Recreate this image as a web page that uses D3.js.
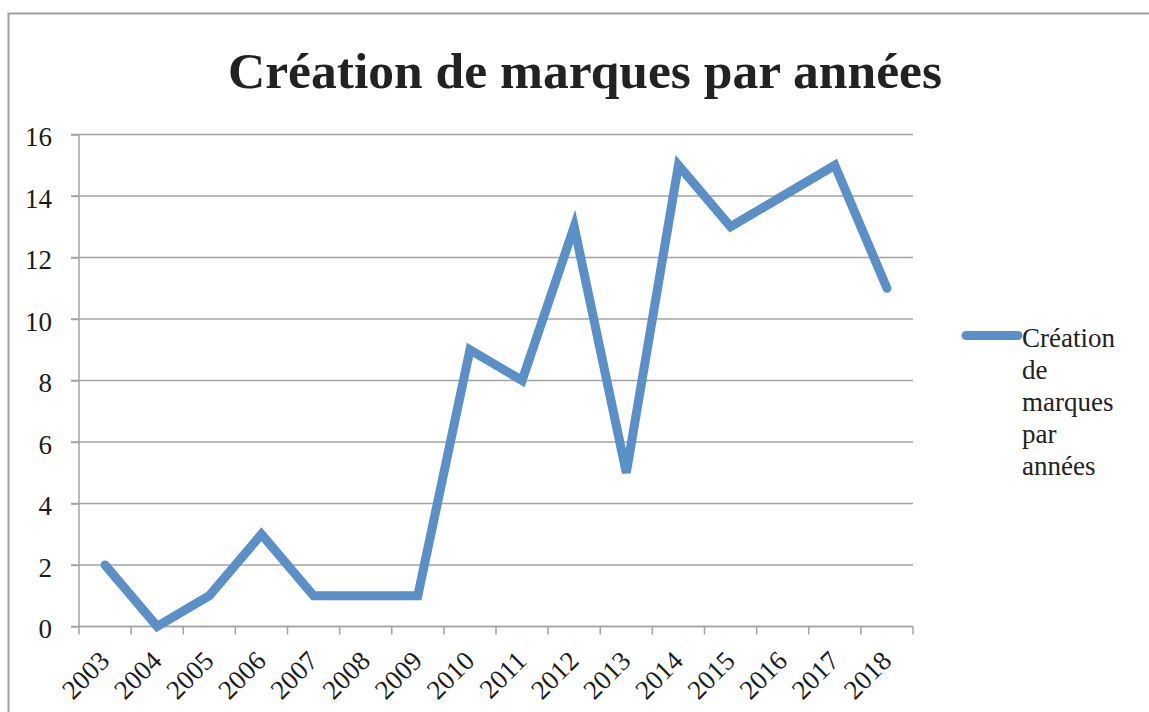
<!DOCTYPE html>
<html><head><meta charset="utf-8">
<script src="https://cdn.jsdelivr.net/npm/d3@7"></script>
<style>body{margin:0;background:#fff}svg{display:block}</style>
</head><body>
<script>
const years = ["2003","2004","2005","2006","2007","2008","2009","2010","2011","2012","2013","2014","2015","2016","2017","2018"];
const values = [2,0,1,3,1,1,1,9,8,13,5,15,13,14,15,11];
const yTicks = [0,2,4,6,8,10,12,14,16];
const seriesName = "Création de marques par années";
const legendLines = ["Création","de","marques","par","années"];
const title = "Création de marques par années";

const W = 1149, H = 712;
const mLeft = 79, mRight = 913, mTop = 134.5, mBottom = 626.5;
const font = "'Liberation Serif', 'DejaVu Serif', serif";
const lineColor = "#5B8FC8";
const gridColor = "#A3A3A3";

const svg = d3.select("body").append("svg").attr("width", W).attr("height", H);

// outer border
svg.append("path").attr("d", `M8.5,${H+5}V13.5H${W+5}`).attr("fill","none").attr("stroke","#A0A0A0").attr("stroke-width",2);

const x = d3.scaleBand().domain(years).range([mLeft, mRight]).padding(0);
const y = d3.scaleLinear().domain([0,16]).range([mBottom, mTop]);

// gridlines
svg.append("g").selectAll("line").data(yTicks).join("line")
  .attr("x1", mLeft-8).attr("x2", mRight)
  .attr("y1", d=>y(d)).attr("y2", d=>y(d))
  .attr("stroke", gridColor).attr("stroke-width", 1.5);

// y axis
const yAxis = svg.append("g").attr("transform", `translate(${mLeft},0)`)
  .call(d3.axisLeft(y).tickValues(yTicks).tickSize(8).tickPadding(19).tickFormat(d3.format("d")));
yAxis.select(".domain").attr("stroke", gridColor).attr("stroke-width",1.5).attr("d", `M0,${mBottom}V${mTop}`);
yAxis.selectAll(".tick line").attr("stroke", gridColor).attr("stroke-width",1.5);
yAxis.selectAll("text").attr("font-family", font).attr("font-size", 27).attr("fill","#1a1a1a").attr("dy","0.42em");

// x axis (ticks at band boundaries)
const xg = svg.append("g").attr("transform", `translate(0,${mBottom})`);
xg.append("line").attr("x1", mLeft).attr("x2", mRight).attr("stroke", gridColor).attr("stroke-width",1.5);
const boundaries = years.map(d=>x(d)).concat([mRight]);
xg.selectAll("line.tk").data(boundaries).join("line").attr("class","tk")
  .attr("x1", d=>d).attr("x2", d=>d).attr("y1",0).attr("y2",8)
  .attr("stroke", gridColor).attr("stroke-width",1.5);
xg.selectAll("text").data(years).join("text")
  .attr("transform", d=>`translate(${x(d)+x.bandwidth()/2+6},${36}) rotate(-45)`)
  .attr("text-anchor","end")
  .attr("font-family", font).attr("font-size", 27).attr("fill","#1a1a1a")
  .text(d=>d);

// line
const line = d3.line().x((d,i)=>x(years[i])+x.bandwidth()/2).y(d=>y(d));
svg.append("path").datum(values).attr("d", line)
  .attr("fill","none").attr("stroke", lineColor).attr("stroke-width", 9)
  .attr("stroke-linejoin","miter").attr("stroke-linecap","round");

// title
svg.append("text").attr("x", 585).attr("y", 88).attr("text-anchor","middle")
  .attr("font-family", font).attr("font-weight","bold").attr("font-size", 51).attr("fill","#222")
  .attr("textLength", 714).attr("lengthAdjust","spacingAndGlyphs")
  .text(title);

// legend
const lg = svg.append("g");
lg.append("line").attr("x1", 966).attr("x2", 1018).attr("y1", 335.5).attr("y2", 335.5)
  .attr("stroke", lineColor).attr("stroke-width", 9).attr("stroke-linecap","round");
lg.append("text").attr("font-family", font).attr("font-size", 27).attr("fill","#222")
  .selectAll("tspan").data(legendLines).join("tspan")
  .attr("x", 1022).attr("y", (d,i)=>346.5 + i*32)
  .text(d=>d);
</script>
</body></html>
